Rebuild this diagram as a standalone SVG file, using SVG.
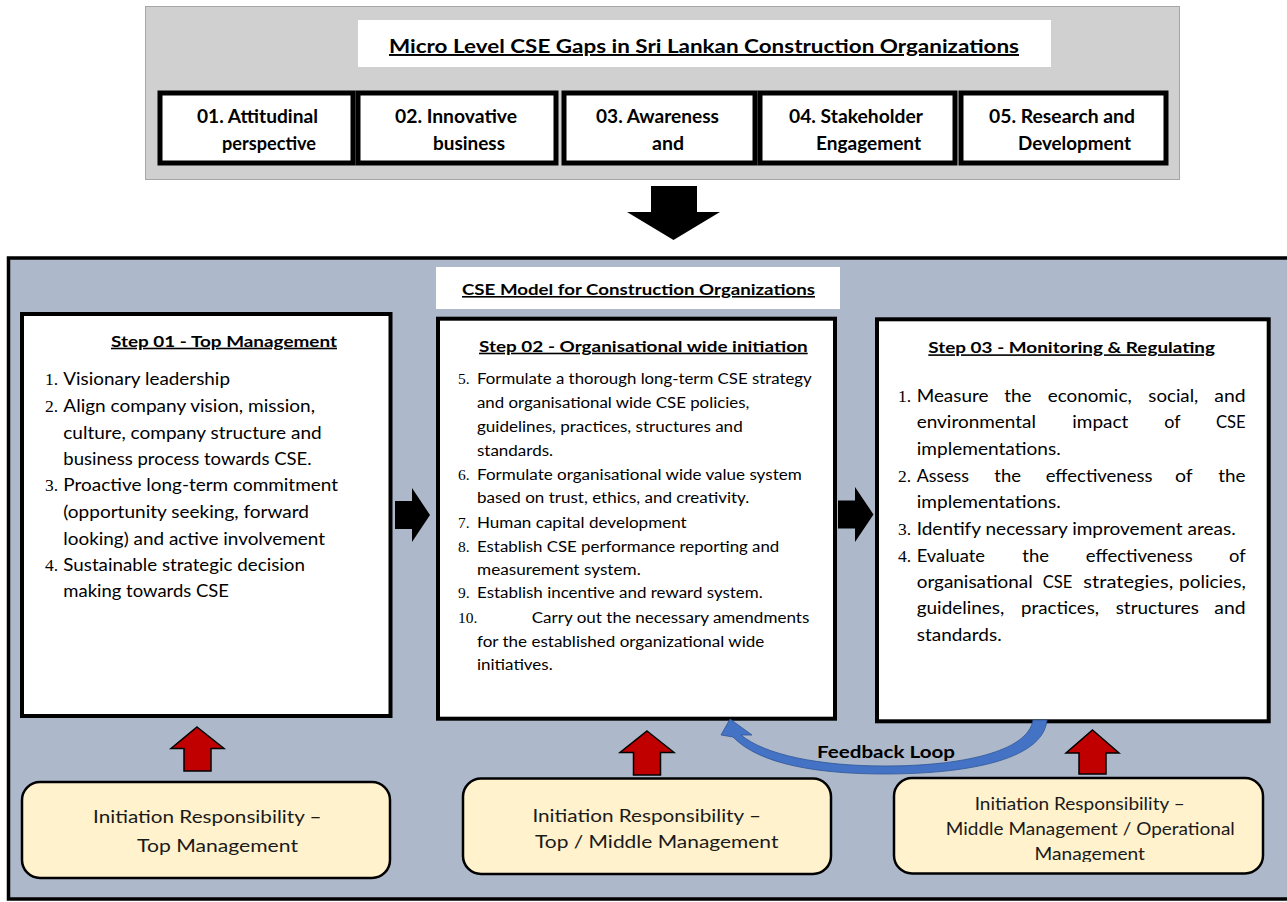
<svg xmlns="http://www.w3.org/2000/svg" width="1287" height="902" viewBox="0 0 1287 902">
<style>
.t{font-family:Lato,"Liberation Sans",sans-serif;fill:#000}
.b{font-weight:bold}
.u{text-decoration:underline}
.n{font-family:"Liberation Serif",serif;fill:#000}
.gapbox{fill:#fff;stroke:#000;stroke-width:5}
.step{fill:#fff;stroke:#000;stroke-width:4}
.resp{fill:#fff2cc;stroke:#000;stroke-width:2.5}
.red{fill:#c00000;stroke:#000;stroke-width:1.5;stroke-linejoin:miter}
.blk{fill:#000}
.s1{font-size:16.5px}
.s2{font-size:14.5px}
.r{font-size:17.5px;fill:#1a1a1a}
</style>
<defs>
<clipPath id="clip3"><rect x="894" y="778" width="369" height="84"/></clipPath>
</defs>
<rect x="0" y="0" width="1287" height="902" fill="#fff"/>

<g id="gaps-panel">
<rect x="145.5" y="6.5" width="1034" height="173" fill="#d0d0d0" stroke="#a6a6a6" stroke-width="1"/>
<rect x="358" y="20" width="693" height="47" fill="#fff"/>
<text class="t b u" x="389" y="53" font-size="19.5" textLength="630" lengthAdjust="spacingAndGlyphs">Micro Level CSE Gaps in Sri Lankan Construction Organizations</text>
</g>
<g id="gap1">
<rect class="gapbox" x="160" y="93" width="193" height="70"/>
<text class="t b" x="197" y="123" font-size="18" textLength="121" lengthAdjust="spacingAndGlyphs">01. Attitudinal</text>
<text class="t b" x="222" y="150" font-size="18" textLength="94" lengthAdjust="spacingAndGlyphs">perspective</text>
</g>
<g id="gap2">
<rect class="gapbox" x="358" y="93" width="198" height="70"/>
<text class="t b" x="395" y="123" font-size="18" textLength="122" lengthAdjust="spacingAndGlyphs">02. Innovative</text>
<text class="t b" x="433" y="150" font-size="18" textLength="72" lengthAdjust="spacingAndGlyphs">business</text>
</g>
<g id="gap3">
<rect class="gapbox" x="564" y="93" width="191" height="70"/>
<text class="t b" x="596" y="123" font-size="18" textLength="123" lengthAdjust="spacingAndGlyphs">03. Awareness</text>
<text class="t b" x="652" y="150" font-size="18" textLength="32" lengthAdjust="spacingAndGlyphs">and</text>
</g>
<g id="gap4">
<rect class="gapbox" x="760" y="93" width="195" height="70"/>
<text class="t b" x="789" y="123" font-size="18" textLength="134" lengthAdjust="spacingAndGlyphs">04. Stakeholder</text>
<text class="t b" x="816" y="150" font-size="18" textLength="105" lengthAdjust="spacingAndGlyphs">Engagement</text>
</g>
<g id="gap5">
<rect class="gapbox" x="961" y="93" width="205" height="70"/>
<text class="t b" x="989" y="123" font-size="18" textLength="146" lengthAdjust="spacingAndGlyphs">05. Research and</text>
<text class="t b" x="1018" y="150" font-size="18" textLength="113" lengthAdjust="spacingAndGlyphs">Development</text>
</g>

<g id="model-panel">
<rect x="8.5" y="258" width="1290" height="641" fill="#adb9ca" stroke="#000" stroke-width="3.5"/>
<rect x="436" y="267" width="404" height="42" fill="#fff"/>
<text class="t b u" x="462" y="295" font-size="16" textLength="353" lengthAdjust="spacingAndGlyphs">CSE Model for Construction Organizations</text>
</g>

<g id="step1">
<rect class="step" x="22" y="314" width="368.5" height="402"/>
<text class="t b u" x="111" y="346.7" font-size="16" textLength="226" lengthAdjust="spacingAndGlyphs">Step 01 - Top Management</text>
<text class="n" x="45" y="385" font-size="17.5">1.</text>
<text class="n" x="45" y="412.3" font-size="17.5">2.</text>
<text class="n" x="45" y="491" font-size="17.5">3.</text>
<text class="n" x="45" y="571" font-size="17.5">4.</text>
<text class="t s1" x="63.3" y="385" textLength="166.7" lengthAdjust="spacingAndGlyphs">Visionary leadership</text>
<text class="t s1" x="63.3" y="412.3" textLength="251.7" lengthAdjust="spacingAndGlyphs">Align company vision, mission,</text>
<text class="t s1" x="63.3" y="438.5" textLength="258.4" lengthAdjust="spacingAndGlyphs">culture, company structure and</text>
<text class="t s1" x="63.3" y="465" textLength="248.4" lengthAdjust="spacingAndGlyphs">business process towards CSE.</text>
<text class="t s1" x="63.3" y="491" textLength="274.7" lengthAdjust="spacingAndGlyphs">Proactive long-term commitment</text>
<text class="t s1" x="63.3" y="518" textLength="245.7" lengthAdjust="spacingAndGlyphs">(opportunity seeking, forward</text>
<text class="t s1" x="63.3" y="544.7" textLength="261.7" lengthAdjust="spacingAndGlyphs">looking) and active involvement</text>
<text class="t s1" x="63.3" y="571" textLength="241.7" lengthAdjust="spacingAndGlyphs">Sustainable strategic decision</text>
<text class="t s1" x="63.3" y="597.3" textLength="165.7" lengthAdjust="spacingAndGlyphs">making towards CSE</text>
</g>

<g id="step2">
<rect class="step" x="438" y="318.7" width="397" height="400"/>
<text class="t b u" x="479" y="351.7" font-size="16" textLength="328.7" lengthAdjust="spacingAndGlyphs">Step 02 - Organisational wide initiation</text>
<text class="n" x="458" y="384" font-size="15.5">5.</text>
<text class="n" x="458" y="480" font-size="15.5">6.</text>
<text class="n" x="458" y="527.7" font-size="15.5">7.</text>
<text class="n" x="458" y="552.3" font-size="15.5">8.</text>
<text class="n" x="458" y="598.3" font-size="15.5">9.</text>
<text class="n" x="458" y="622.7" font-size="15.5">10.</text>
<text class="t s2" x="477" y="384" textLength="334.7" lengthAdjust="spacingAndGlyphs">Formulate a thorough long-term CSE strategy</text>
<text class="t s2" x="477" y="408.3" textLength="272.3" lengthAdjust="spacingAndGlyphs">and organisational wide CSE policies,</text>
<text class="t s2" x="477" y="431.7" textLength="265.7" lengthAdjust="spacingAndGlyphs">guidelines, practices, structures and</text>
<text class="t s2" x="477" y="455.7" textLength="76" lengthAdjust="spacingAndGlyphs">standards.</text>
<text class="t s2" x="477" y="480" textLength="324.7" lengthAdjust="spacingAndGlyphs">Formulate organisational wide value system</text>
<text class="t s2" x="477" y="503.3" textLength="272.3" lengthAdjust="spacingAndGlyphs">based on trust, ethics, and creativity.</text>
<text class="t s2" x="477" y="527.7" textLength="209.7" lengthAdjust="spacingAndGlyphs">Human capital development</text>
<text class="t s2" x="477" y="552.3" textLength="302.3" lengthAdjust="spacingAndGlyphs">Establish CSE performance reporting and</text>
<text class="t s2" x="477" y="575" textLength="163.7" lengthAdjust="spacingAndGlyphs">measurement system.</text>
<text class="t s2" x="477" y="598.3" textLength="285.7" lengthAdjust="spacingAndGlyphs">Establish incentive and reward system.</text>
<text class="t s2" x="531.7" y="622.7" textLength="277.6" lengthAdjust="spacingAndGlyphs">Carry out the necessary amendments</text>
<text class="t s2" x="477" y="646.7" textLength="287.3" lengthAdjust="spacingAndGlyphs">for the established organizational wide</text>
<text class="t s2" x="477" y="670" textLength="75.7" lengthAdjust="spacingAndGlyphs">initiatives.</text>
</g>

<g id="step3">
<rect class="step" x="877" y="319.3" width="391.7" height="402"/>
<text class="t b u" x="928.3" y="353.3" font-size="16" textLength="286.7" lengthAdjust="spacingAndGlyphs">Step 03 - Monitoring &amp; Regulating</text>
<text class="n" x="898" y="401.7" font-size="17.5">1.</text>
<text class="n" x="898" y="481.7" font-size="17.5">2.</text>
<text class="n" x="898" y="535" font-size="17.5">3.</text>
<text class="n" x="898" y="561.7" font-size="17.5">4.</text>
<g class="t s1">
<text x="916.7" y="401.7" textLength="71.7" lengthAdjust="spacingAndGlyphs">Measure</text>
<text x="1004.3" y="401.7" textLength="27.3" lengthAdjust="spacingAndGlyphs">the</text>
<text x="1047.7" y="401.7" textLength="84" lengthAdjust="spacingAndGlyphs">economic,</text>
<text x="1148.3" y="401.7" textLength="50" lengthAdjust="spacingAndGlyphs">social,</text>
<text x="1214.3" y="401.7" textLength="31.3" lengthAdjust="spacingAndGlyphs">and</text>
<text x="916.7" y="428" textLength="119.3" lengthAdjust="spacingAndGlyphs">environmental</text>
<text x="1072.3" y="428" textLength="56" lengthAdjust="spacingAndGlyphs">impact</text>
<text x="1164.3" y="428" textLength="16.3" lengthAdjust="spacingAndGlyphs">of</text>
<text x="1216" y="428" textLength="29.7" lengthAdjust="spacingAndGlyphs">CSE</text>
<text x="916.7" y="455" textLength="144" lengthAdjust="spacingAndGlyphs">implementations.</text>
<text x="916.7" y="481.7" textLength="52.3" lengthAdjust="spacingAndGlyphs">Assess</text>
<text x="994.3" y="481.7" textLength="26.7" lengthAdjust="spacingAndGlyphs">the</text>
<text x="1045.7" y="481.7" textLength="106.7" lengthAdjust="spacingAndGlyphs">effectiveness</text>
<text x="1175" y="481.7" textLength="17.7" lengthAdjust="spacingAndGlyphs">of</text>
<text x="1218.3" y="481.7" textLength="27.3" lengthAdjust="spacingAndGlyphs">the</text>
<text x="916.7" y="508" textLength="144" lengthAdjust="spacingAndGlyphs">implementations.</text>
<text x="916.7" y="535" textLength="319" lengthAdjust="spacingAndGlyphs">Identify necessary improvement areas.</text>
<text x="916.7" y="561.7" textLength="68.3" lengthAdjust="spacingAndGlyphs">Evaluate</text>
<text x="1022.3" y="561.7" textLength="26.7" lengthAdjust="spacingAndGlyphs">the</text>
<text x="1085.7" y="561.7" textLength="107" lengthAdjust="spacingAndGlyphs">effectiveness</text>
<text x="1229" y="561.7" textLength="16.7" lengthAdjust="spacingAndGlyphs">of</text>
<text x="916.7" y="587.5" textLength="116" lengthAdjust="spacingAndGlyphs">organisational</text>
<text x="1042.7" y="587.5" textLength="29.7" lengthAdjust="spacingAndGlyphs">CSE</text>
<text x="1083.3" y="587.5" textLength="90" lengthAdjust="spacingAndGlyphs">strategies,</text>
<text x="1179" y="587.5" textLength="66.7" lengthAdjust="spacingAndGlyphs">policies,</text>
<text x="916.7" y="614" textLength="87.7" lengthAdjust="spacingAndGlyphs">guidelines,</text>
<text x="1021" y="614" textLength="78" lengthAdjust="spacingAndGlyphs">practices,</text>
<text x="1115.7" y="614" textLength="83.3" lengthAdjust="spacingAndGlyphs">structures</text>
<text x="1214.3" y="614" textLength="31.3" lengthAdjust="spacingAndGlyphs">and</text>
<text x="916.7" y="640.7" textLength="85" lengthAdjust="spacingAndGlyphs">standards.</text>
</g>
</g>

<g id="resp1">
<rect class="resp" x="22" y="782" width="368" height="96" rx="18"/>
<text class="t r" x="93" y="823.3" textLength="228.6" lengthAdjust="spacingAndGlyphs">Initiation Responsibility –</text>
<text class="t r" x="137" y="851.7" textLength="161" lengthAdjust="spacingAndGlyphs">Top Management</text>
</g>
<g id="resp2">
<rect class="resp" x="463" y="778.5" width="368" height="95.5" rx="18"/>
<text class="t r" x="532.4" y="821.7" textLength="228.6" lengthAdjust="spacingAndGlyphs">Initiation Responsibility –</text>
<text class="t r" x="535" y="848.3" textLength="243.4" lengthAdjust="spacingAndGlyphs">Top / Middle Management</text>
</g>
<g id="resp3">
<rect class="resp" x="894" y="778" width="369" height="95.5" rx="18"/>
<text class="t r" x="974.7" y="810" font-size="16" textLength="210" lengthAdjust="spacingAndGlyphs">Initiation Responsibility –</text>
<text class="t r" x="945.8" y="835" font-size="16" textLength="289" lengthAdjust="spacingAndGlyphs">Middle Management / Operational</text>
<g clip-path="url(#clip3)">
<text class="t r" x="1034.6" y="859.5" font-size="16" textLength="110.4" lengthAdjust="spacingAndGlyphs">Management</text>
</g>
</g>

<g id="connectors">
<polygon class="blk" points="651,186 697,186 697,212 720,212 673.5,240 627,212 651,212"/>
<polygon class="blk" points="395,501 412,501 412,488 430,515 412,542 412,529 395,529"/>
<polygon class="blk" points="838,500.5 855,500.5 855,487 873.5,514.5 855,542 855,528.5 838,528.5"/>
<polygon class="red" points="197,727 224,748.5 211,748.5 211,771 184,771 184,748.5 171,748.5"/>
<polygon class="red" points="647,731 674,752.5 660.5,752.5 660.5,775 633.5,775 633.5,752.5 620,752.5"/>
<polygon class="red" points="1092.5,730 1119,753 1106,753 1106,774 1079,774 1079,753 1066,753"/>
<path d="M1033,720 C1028,752 960,766 885,766 C820,766 765,755 741,735 L752,735 L730,719 L721,735 L733,737 C760,765 820,774 885,774 C960,774 1043,762 1047,720 Z" fill="#4472c4" stroke="#2f5597" stroke-width="0.8"/>
<text class="t b" x="817" y="758" font-size="17" textLength="138" lengthAdjust="spacingAndGlyphs">Feedback Loop</text>
</g>
</svg>
